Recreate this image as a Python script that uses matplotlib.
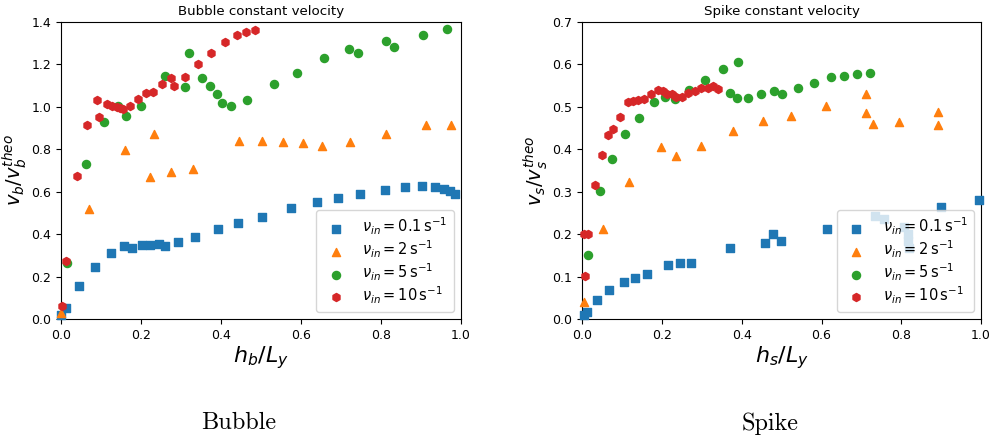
import numpy as np
import matplotlib
matplotlib.use('Agg')
import matplotlib.pyplot as plt

plt.rcParams['mathtext.fontset'] = 'dejavusans'

# Bubble data (h_b/L_y, v_b/v_b^theo)
bub_x_01 = [0.0, 0.0125, 0.046, 0.086, 0.126, 0.158, 0.177, 0.203, 0.2225, 0.245, 0.259, 0.293,
            0.336, 0.393, 0.442, 0.5025, 0.575, 0.639, 0.692, 0.7475, 0.81, 0.859, 0.902, 0.935,
            0.958, 0.9725, 0.986]
bub_y_01 = [0.02, 0.05, 0.156, 0.245, 0.31, 0.343, 0.336, 0.349, 0.349, 0.354, 0.343, 0.361,
            0.387, 0.423, 0.451, 0.482, 0.525, 0.553, 0.570, 0.589, 0.610, 0.621, 0.625, 0.624,
            0.614, 0.602, 0.588]
bub_x_2 = [0.0, 0.069, 0.159, 0.223, 0.232, 0.276, 0.329, 0.445, 0.5025, 0.556, 0.606, 0.652,
           0.7225, 0.812, 0.912, 0.976]
bub_y_2 = [0.027, 0.517, 0.795, 0.669, 0.870, 0.691, 0.707, 0.837, 0.839, 0.836, 0.828, 0.817,
           0.836, 0.872, 0.915, 0.916]
bub_x_5 = [0.016, 0.0625, 0.107, 0.142, 0.1625, 0.199, 0.259, 0.319, 0.309, 0.3525, 0.3725,
           0.389, 0.4025, 0.426, 0.466, 0.5325, 0.589, 0.658, 0.719, 0.742, 0.812, 0.832,
           0.905, 0.966]
bub_y_5 = [0.264, 0.729, 0.929, 1.004, 0.955, 1.004, 1.146, 1.254, 1.094, 1.135, 1.098, 1.059,
           1.017, 1.004, 1.031, 1.109, 1.160, 1.229, 1.274, 1.252, 1.309, 1.284, 1.337, 1.369]
bub_x_10 = [0.0025, 0.0125, 0.039, 0.066, 0.089, 0.096, 0.116, 0.128, 0.139, 0.1475, 0.156,
            0.1725, 0.1925, 0.2125, 0.229, 0.2525, 0.276, 0.2825, 0.309, 0.3425, 0.376, 0.409,
            0.439, 0.4625, 0.486]
bub_y_10 = [0.061, 0.275, 0.674, 0.9145, 1.034, 0.954, 1.012, 1.006, 1.001, 0.996, 0.988,
            1.006, 1.036, 1.064, 1.070, 1.106, 1.136, 1.100, 1.141, 1.200, 1.256, 1.306,
            1.340, 1.353, 1.364]

# Spike data (h_s/L_y, v_s/v_s^theo)
spk_x_01 = [0.005, 0.013, 0.038, 0.0685, 0.105, 0.132, 0.162, 0.2155, 0.2456, 0.272, 0.371,
            0.4587, 0.4795, 0.4987, 0.615, 0.734, 0.757, 0.807, 0.816, 0.818, 0.82, 0.899, 0.996]
spk_y_01 = [0.009, 0.017, 0.0448, 0.0676, 0.088, 0.0974, 0.106, 0.1265, 0.131, 0.1328, 0.168,
            0.180, 0.201, 0.184, 0.212, 0.243, 0.236, 0.217, 0.2, 0.184, 0.168, 0.264, 0.280]
spk_x_2 = [0.005, 0.0526, 0.1186, 0.198, 0.2356, 0.298, 0.378, 0.4545, 0.5246, 0.6115, 0.7118,
           0.7118, 0.7285, 0.795, 0.892, 0.892]
spk_y_2 = [0.041, 0.212, 0.324, 0.406, 0.385, 0.408, 0.443, 0.467, 0.479, 0.501, 0.530,
           0.4855, 0.4596, 0.465, 0.487, 0.4564]
spk_x_5 = [0.015, 0.045, 0.075, 0.1086, 0.142, 0.179, 0.207, 0.232, 0.268, 0.309, 0.352, 0.371,
           0.389, 0.3918, 0.415, 0.449, 0.482, 0.502, 0.542, 0.5815, 0.625, 0.656, 0.688, 0.7218]
spk_y_5 = [0.150, 0.3017, 0.377, 0.435, 0.4745, 0.512, 0.523, 0.518, 0.540, 0.5625, 0.589, 0.533,
           0.520, 0.605, 0.5216, 0.5295, 0.537, 0.530, 0.544, 0.557, 0.570, 0.572, 0.5766, 0.580]
spk_x_10 = [0.006, 0.005, 0.015, 0.0317, 0.049, 0.065, 0.0785, 0.095, 0.1145, 0.127, 0.14, 0.155,
            0.172, 0.189, 0.203, 0.212, 0.226, 0.2356, 0.25, 0.2665, 0.282, 0.299, 0.3145,
            0.329, 0.34]
spk_y_10 = [0.1006, 0.201, 0.201, 0.317, 0.387, 0.434, 0.449, 0.476, 0.512, 0.5146, 0.516, 0.518,
            0.5295, 0.540, 0.538, 0.530, 0.531, 0.524, 0.524, 0.533, 0.538, 0.544, 0.5436,
            0.549, 0.542]

labels = [r'$\nu_{in} = 0.1\,\mathrm{s}^{-1}$', r'$\nu_{in} = 2\,\mathrm{s}^{-1}$',
          r'$\nu_{in} = 5\,\mathrm{s}^{-1}$', r'$\nu_{in} = 10\,\mathrm{s}^{-1}$']
colors = ['#1f77b4', '#ff7f0e', '#2ca02c', '#d62728']
markers = ['s', '^', 'o', 'h']


def draw(ax, series, title, xlab, ylab, ymax):
    for (x, y), c, m, lab in zip(series, colors, markers, labels):
        ax.scatter(x, y, c=c, marker=m, s=34, label=lab, clip_on=False, zorder=3)
    ax.set_xlim(0, 1)
    ax.set_ylim(0, ymax)
    ax.set_title(title, fontsize=9.6, pad=5)
    ax.set_xlabel(xlab, fontsize=16, labelpad=2)
    ax.set_ylabel(ylab, fontsize=14, labelpad=1.5)
    ax.tick_params(labelsize=9)
    ax.legend(loc='lower right', fontsize=10.5, handletextpad=0.85, borderpad=0.4,
              labelspacing=0.1, handlelength=1.9, scatterpoints=1)


fig = plt.figure(figsize=(9.9, 4.41), dpi=100)
ax1 = fig.add_axes([0.0616, 0.2766, 0.404, 0.6735])
ax2 = fig.add_axes([0.588, 0.2766, 0.403, 0.6735])

draw(ax1, [(bub_x_01, bub_y_01), (bub_x_2, bub_y_2), (bub_x_5, bub_y_5), (bub_x_10, bub_y_10)],
     'Bubble constant velocity', r'$h_b/L_y$', r'$v_b/v_b^{theo}$', 1.4)
draw(ax2, [(spk_x_01, spk_y_01), (spk_x_2, spk_y_2), (spk_x_5, spk_y_5), (spk_x_10, spk_y_10)],
     'Spike constant velocity', r'$h_s/L_y$', r'$v_s/v_s^{theo}$', 0.7)

fig.text(0.2415, 0.04, 'Bubble', family='cmr10', fontsize=17.5, ha='center', va='center')
fig.text(0.778, 0.04, 'Spike', family='cmr10', fontsize=17.5, ha='center', va='center')

fig.savefig('out.png', dpi=100)
